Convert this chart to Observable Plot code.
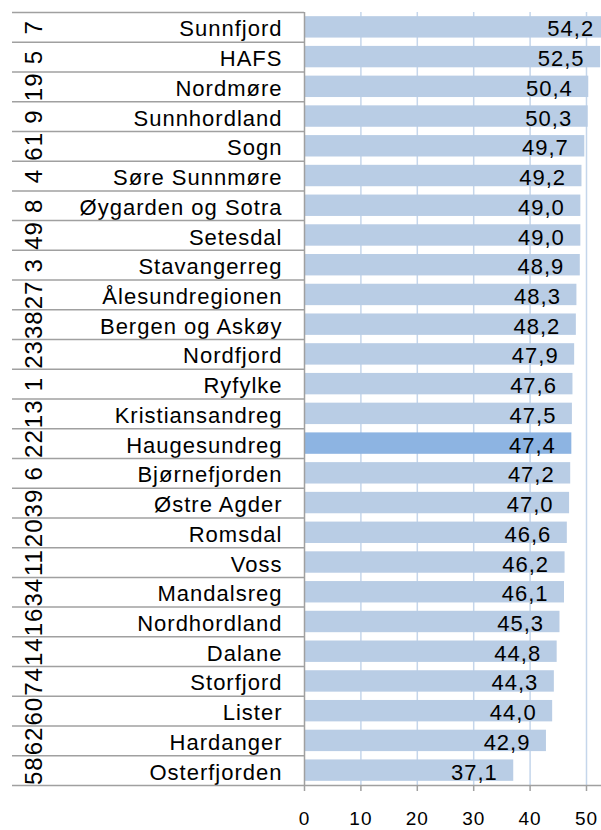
<!DOCTYPE html>
<html><head><meta charset="utf-8">
<script src="https://cdn.jsdelivr.net/npm/d3@7"></script>
<script src="https://cdn.jsdelivr.net/npm/@observablehq/plot@0.6"></script>
<style>
body{margin:0;background:#fff;}
#chart svg text{letter-spacing:1px;}
</style></head><body><div id="chart"></div>
<script>
const names = ["Sunnfjord","HAFS","Nordmøre","Sunnhordland","Sogn","Søre Sunnmøre","Øygarden og Sotra","Setesdal","Stavangerreg","Ålesundregionen","Bergen og Askøy","Nordfjord","Ryfylke","Kristiansandreg","Haugesundreg","Bjørnefjorden","Østre Agder","Romsdal","Voss","Mandalsreg","Nordhordland","Dalane","Storfjord","Lister","Hardanger","Osterfjorden"];
const values = [54.2,52.5,50.4,50.3,49.7,49.2,49.0,49.0,48.9,48.3,48.2,47.9,47.6,47.5,47.4,47.2,47.0,46.6,46.2,46.1,45.3,44.8,44.3,44.0,42.9,37.1];
const codes = ["7","5","19","9","61","4","8","49","3","27","38","23","1","13","22","6","39","20","11","34","16","14","74","60","62","58"];
const highlight = "Haugesundreg";
const xTicks = [0,10,20,30,40,50];

const data = names.map((name,i)=>({name, value: values[i], code: codes[i]}));
const fmt = v => v.toFixed(1).replace(".", ",");
const W = 601, H = 830, mTop = 12, mBottom = 45, mLeft = 304;
const step = (H - mTop - mBottom) / names.length;
const lineColor = "#a0a0a0";

const chart = Plot.plot({
  width: W, height: H, marginLeft: mLeft, marginRight: 0, marginTop: mTop, marginBottom: mBottom,
  style: {fontFamily: "'Liberation Sans', Arial, sans-serif", background: "white", color: "black"},
  x: {domain: [0, 52.66]},
  y: {domain: names, paddingInner: 0.28, paddingOuter: 0.14, round: false},
  marks: [
    Plot.gridX(xTicks.slice(1), {stroke: "#c5d6eb", strokeOpacity: 1, strokeWidth: 1.5}),
    Plot.barX(data, {x: "value", y: "name", fill: d => d.name === highlight ? "#8db4e2" : "#b9cde5", clip: true}),
    Plot.ruleX([0], {stroke: lineColor, strokeWidth: 1.5}),
    Plot.text(data, {x: "value", y: "name", text: d => fmt(d.value), textAnchor: "end", dx: -16, dy: 2, fontSize: 22, fill: "black"}),
    Plot.axisY({tickSize: 0, tickPadding: 22, fontSize: 22, dy: 2, label: null}),
    Plot.axisY({tickSize: mLeft - 12, dy: -step/2, tickFormat: () => "", stroke: lineColor, strokeWidth: 1.5, label: null}),
    Plot.axisY([names[names.length-1]], {tickSize: mLeft - 12, dy: step/2, tickFormat: () => "", stroke: lineColor, strokeWidth: 1.5, label: null}),
    Plot.ruleY([names[names.length-1]], {dy: step/2, stroke: lineColor, strokeWidth: 1.5}),
    Plot.text(data, {y: "name", text: "code", frameAnchor: "left", dx: -270, rotate: -90, textAnchor: "middle", fontSize: 24, fill: "black"}),
    Plot.axisX(xTicks, {tickSize: 6, tickPadding: 20, fontSize: 19, stroke: lineColor, strokeWidth: 1.5, label: null})
  ]
});
document.getElementById("chart").appendChild(chart);
</script></body></html>
